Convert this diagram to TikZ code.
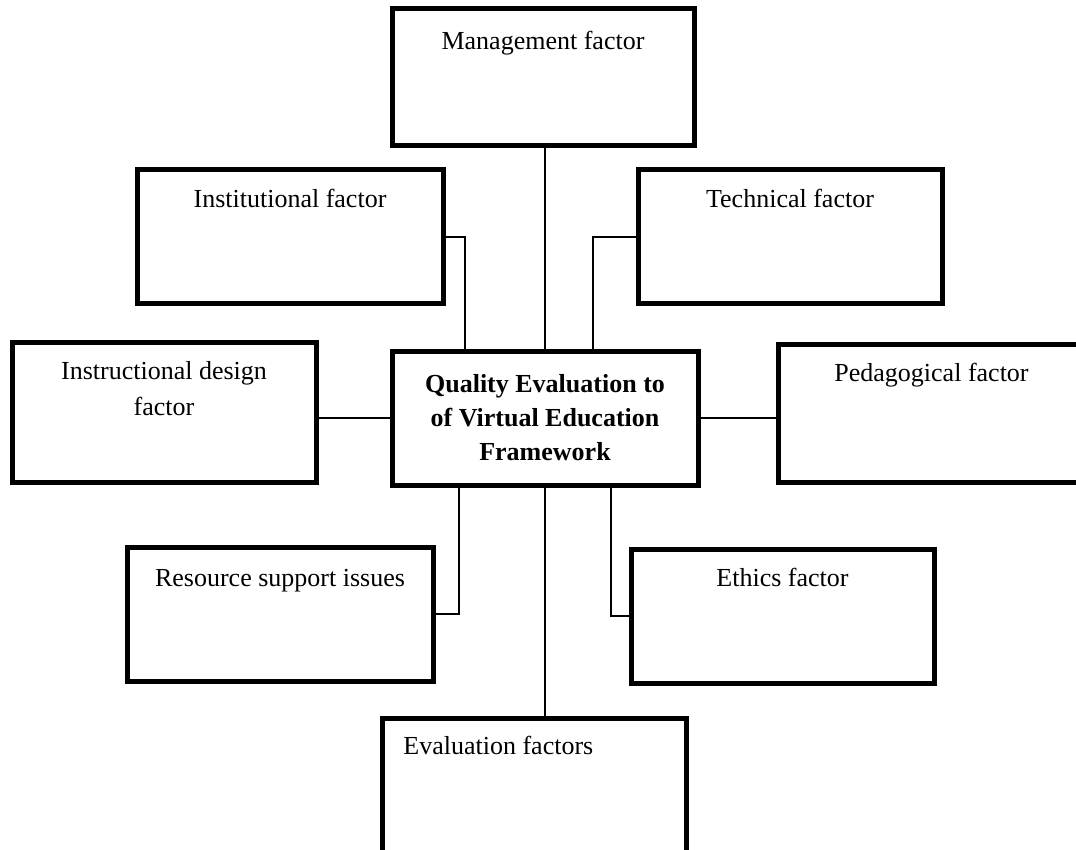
\documentclass[tikz,border=0pt]{standalone}
\usepackage{fontspec}
\setmainfont{Liberation Serif}
\usetikzlibrary{positioning,calc}
\tikzset{
  factor/.style={rectangle, draw=black, line width=2.5pt, fill=white,
                 minimum width=152pt, minimum height=67pt,
                 inner sep=0pt, outer sep=0pt},
  core/.style={factor, align=center,
               font=\fontsize{13}{17}\selectfont\bfseries},
  ftext/.style={anchor=base, inner sep=0pt, align=center,
                font=\fontsize{13}{17.5}\selectfont},
  link/.style={draw=black, line width=1pt},
}
\newcommand{\Factor}[5][]{% [box opts]{name}{centre}{drop}{text}
  \node[factor,#1] (#2) at (#3) {};
  \node[ftext] (#2-t) at ([yshift=-#4]#2.north) {#5};}

\begin{document}
\begin{tikzpicture}[x=0.5pt, y=-0.5pt]
  \useasboundingbox (0,0) rectangle (1076,850);

  % ===== centre ========================================================
  \node[core, minimum width=153pt] (core) at (545,418)
       {Quality Evaluation to\\of Virtual Education\\Framework};

  % ===== factors round it ==============================================
  \Factor[minimum width=151pt, minimum height=68.5pt]{mgmt}{543,77.5}{20.5pt}{Management factor}
  \Factor[minimum width=153pt]{inst}{290,237}{19pt}{Institutional factor}
  \Factor{tech}{790,237}{19pt}{Technical factor}
  % two lines: drop measured to the last baseline
  \Factor[minimum height=70pt]{instr}{164,412}{36.5pt}{Instructional design\\factor}
  \Factor[minimum width=153.5pt, minimum height=69pt]{peda}{931.5,413}{18.5pt}{Pedagogical factor}
  \Factor[minimum width=153pt]{res}{280,614}{19.5pt}{Resource support issues}
  \Factor[minimum width=151.5pt]{eth}{782.5,616}{18.5pt}{Ethics factor}
  % evaluation box runs off the bottom, text set flush left
  \node[factor, minimum height=71pt] (eval) at (534,789) {};
  \node[ftext, anchor=base west] (eval-t)
       at ([xshift=10.5pt,yshift=-18pt]eval.north west) {Evaluation factors};

  % ===== connectors ====================================================
  \draw[link] (core.north) -- (core.north |- mgmt.south);
  \draw[link] (inst.east) -| ([xshift=-40pt]core.north);
  \draw[link] (tech.west) -| ([xshift=24pt]core.north);
  \draw[link] (core.west) -- (core.west -| instr.east);
  \draw[link] (core.east) -- (core.east -| peda.west);
  \draw[link] ([xshift=-43pt]core.south) |- (res.east);
  \draw[link] ([xshift=33pt]core.south) |- (eth.west);
  \draw[link] (core.south) -- (core.south |- eval.north);

\end{tikzpicture}
\end{document}
